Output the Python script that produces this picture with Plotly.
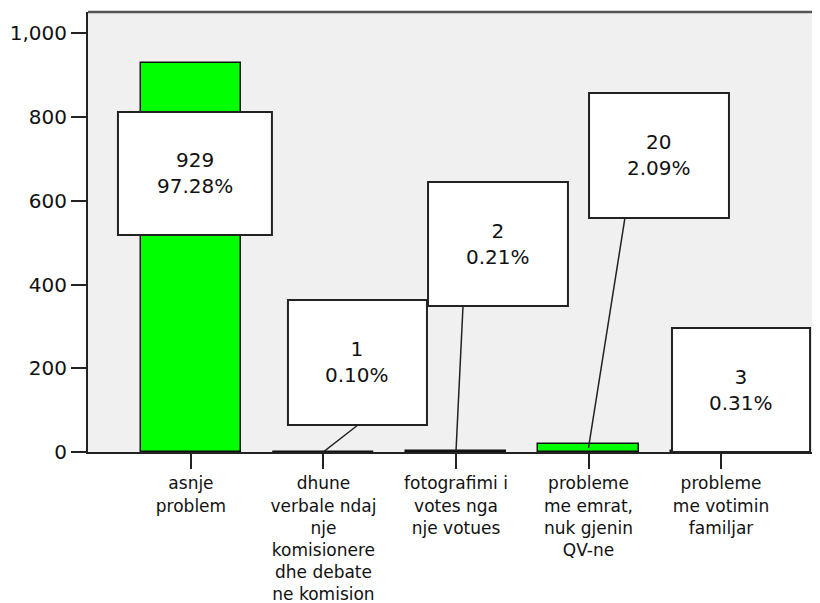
import plotly.graph_objects as go

# ---- data ----
categories = [
    "asnje problem",
    "dhune verbale ndaj nje komisionere dhe debate ne komision",
    "fotografimi i votes nga nje votues",
    "probleme me emrat, nuk gjenin QV-ne",
    "probleme me votimin familjar",
]
tick_labels = [
    "asnje<br>problem",
    "dhune<br>verbale ndaj<br>nje<br>komisionere<br>dhe debate<br>ne komision",
    "fotografimi i<br>votes nga<br>nje votues",
    "probleme<br>me emrat,<br>nuk gjenin<br>QV-ne",
    "probleme<br>me votimin<br>familjar",
]
counts = [929, 1, 2, 20, 3]
percents = [97.28, 0.10, 0.21, 2.09, 0.31]
y_ticks = [0, 200, 400, 600, 800, 1000]

# ---- layout constants (label box placement, data coordinates) ----
box_x0 = [-0.551, 0.732, 1.789, 3.004, 3.630]
box_x1 = [0.611, 1.781, 2.845, 4.060, 4.672]
box_y0 = [518.5, 64.5, 348.9, 559.1, 0]
box_y1 = [812.4, 363.2, 645.2, 857.8, 296.3]
leader_start = {1: (1.260, 64.5), 2: (2.053, 348.9), 3: (3.275, 559.1)}

FONT = "DejaVu Sans"
INK = "#111111"

fig = go.Figure()
fig.add_trace(go.Bar(
    x=list(range(len(categories))),
    y=counts,
    width=0.755,
    marker=dict(color="#00FF00", line=dict(color="#111111", width=1.5)),
    hoverinfo="skip",
    customdata=categories,
))

shapes = []
annotations = []
# leader lines
for i, (sx, sy) in leader_start.items():
    shapes.append(dict(type="line", xref="x", yref="y", x0=sx, y0=sy, x1=i, y1=counts[i] / 2,
                       line=dict(color="#222222", width=1.5), layer="above"))
# boxes + text
for i in range(len(counts)):
    shapes.append(dict(type="rect", xref="x", yref="y", x0=box_x0[i], x1=box_x1[i],
                       y0=box_y0[i], y1=box_y1[i], fillcolor="white",
                       line=dict(color="#222222", width=2), layer="above"))
    annotations.append(dict(
        x=(box_x0[i] + box_x1[i]) / 2, y=(box_y0[i] + box_y1[i]) / 2,
        xref="x", yref="y", showarrow=False,
        text=f"{counts[i]}<br>{percents[i]:.2f}%",
        font=dict(family=FONT, size=20, color=INK),
    ))
# top frame line
shapes.append(dict(type="line", xref="paper", yref="paper", x0=0, x1=1, y0=1, y1=1,
                   line=dict(color="#555555", width=2.5)))

# the page body adds an 8px offset, so the figure is 8px smaller each way
fig.update_layout(
    width=812, height=595,
    margin=dict(l=80, r=0, t=4, b=151, autoexpand=False),
    paper_bgcolor="white",
    plot_bgcolor="#F0F0F0",
    showlegend=False,
    bargap=0,
    shapes=shapes,
    annotations=annotations,
    font=dict(family=FONT, color=INK),
)
fig.update_xaxes(
    automargin=False,
    range=[-0.777, 4.747],
    tickvals=list(range(len(categories))),
    ticktext=tick_labels,
    tickangle=0,
    ticks="outside", ticklen=15, tickwidth=2, tickcolor="#222222",
    showline=True, linecolor="#222222", linewidth=2,
    showgrid=False, zeroline=False,
    tickfont=dict(family=FONT, size=17, color=INK),
)
fig.update_yaxes(
    automargin=False,
    range=[0, 1051],
    tickvals=y_ticks,
    tickformat=",d",
    ticks="outside", ticklen=15, tickwidth=2, tickcolor="#222222",
    showline=True, linecolor="#222222", linewidth=2,
    showgrid=False, zeroline=False,
    tickfont=dict(family=FONT, size=20, color=INK),
)

fig.write_html("out.html")
